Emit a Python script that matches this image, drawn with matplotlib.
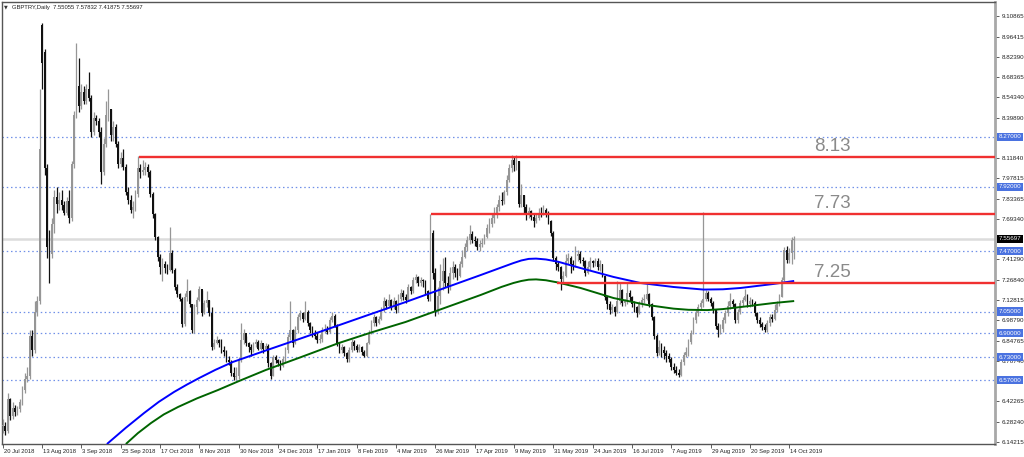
import matplotlib
matplotlib.use("Agg")
import matplotlib.pyplot as plt
import numpy as np

# ---------------- data ----------------
date_labels = ["20 Jul 2018", "13 Aug 2018", "3 Sep 2018", "25 Sep 2018", "17 Oct 2018",
               "8 Nov 2018", "30 Nov 2018", "24 Dec 2018", "17 Jan 2019", "8 Feb 2019",
               "4 Mar 2019", "26 Mar 2019", "17 Apr 2019", "9 May 2019", "31 May 2019",
               "24 Jun 2019", "16 Jul 2019", "7 Aug 2019", "29 Aug 2019", "20 Sep 2019",
               "14 Oct 2019"]
label_step = 16  # bars between date labels

closes = [
    6.25, 6.22, 6.44, 6.32, 6.38, 6.35, 6.37, 6.42, 6.50, 6.58,
    6.60, 6.88, 6.78, 7.05, 7.12, 8.18, 8.78, 8.05, 7.50, 7.45,
    7.66, 7.85, 7.80, 7.83, 7.79, 7.74, 7.82, 7.70, 8.08, 8.42,
    8.62, 8.48, 8.58, 8.52, 8.60, 8.54, 8.30, 8.40, 8.38, 8.30,
    8.02, 8.22, 8.42, 8.46, 8.28, 8.34, 8.22, 8.08, 8.12, 8.06,
    7.88, 7.83, 7.76, 7.78, 7.87, 8.05, 8.02, 8.04, 8.06, 8.02,
    7.87, 7.73, 7.57, 7.43, 7.36, 7.38, 7.35, 7.34, 7.46, 7.34,
    7.22, 7.17, 7.14, 6.96, 7.15, 7.19, 7.10, 6.92, 7.08, 7.13,
    7.21, 7.04, 7.11, 7.13, 7.04, 6.80, 6.83, 6.85, 6.83, 6.78,
    6.77, 6.71, 6.70, 6.62, 6.59, 6.60, 6.71, 6.85, 6.90, 6.83,
    6.80, 6.78, 6.82, 6.84, 6.79, 6.83, 6.79, 6.81, 6.69, 6.60,
    6.73, 6.71, 6.69, 6.67, 6.72, 6.78, 6.87, 6.92, 6.83, 6.92,
    7.01, 7.04, 7.00, 7.05, 6.97, 6.92, 6.90, 6.88, 6.85, 6.86,
    6.92, 6.93, 6.91, 6.99, 7.02, 6.95, 6.83, 6.78, 6.80, 6.76,
    6.72, 6.78, 6.84, 6.81, 6.78, 6.80, 6.77, 6.74, 6.83, 6.90,
    6.97, 7.01, 6.97, 7.00, 7.06, 7.12, 7.09, 7.13, 7.08, 7.12,
    7.06, 7.14, 7.18, 7.15, 7.13, 7.22, 7.19, 7.27, 7.29, 7.25,
    7.27, 7.26, 7.19, 7.14, 7.60, 7.32, 7.05, 7.16, 7.26, 7.33,
    7.25, 7.22, 7.32, 7.36, 7.32, 7.30, 7.38, 7.43, 7.50, 7.55,
    7.59, 7.55, 7.54, 7.50, 7.52, 7.53, 7.57, 7.63, 7.66, 7.70,
    7.72, 7.78, 7.83, 7.82, 7.88, 7.97, 8.05, 8.11, 8.07, 8.10,
    7.80, 7.86, 7.78, 7.72, 7.75, 7.71, 7.68, 7.70, 7.74, 7.73,
    7.76, 7.74, 7.68, 7.60, 7.42, 7.38, 7.36, 7.28, 7.30, 7.40,
    7.42, 7.38, 7.37, 7.44, 7.45, 7.41, 7.40, 7.32, 7.36, 7.40,
    7.39, 7.40, 7.36, 7.38, 7.30, 7.15, 7.10, 7.06, 7.08, 7.05,
    7.12, 7.20, 7.11, 7.12, 7.18, 7.15, 7.10, 7.08, 7.04, 7.10,
    7.13, 7.14, 7.17, 7.10, 7.01, 6.88, 6.76, 6.80, 6.78, 6.76,
    6.74, 6.72, 6.66, 6.64, 6.62, 6.61, 6.70, 6.75, 6.77, 6.84,
    6.90, 6.99, 7.04, 7.08, 7.11, 7.14, 7.18, 7.14, 7.11, 7.06,
    6.95, 6.92, 6.93, 6.99, 7.04, 7.09, 7.12, 7.10, 6.99, 7.05,
    7.11, 7.13, 7.16, 7.10, 7.12, 7.11, 7.04, 6.99, 6.96, 6.94,
    6.92, 6.97, 7.01, 7.00, 7.06, 7.10, 7.15, 7.27, 7.48, 7.41,
    7.46, 7.55, 7.55697,
]
highs = [
    6.30, 6.28, 6.48, 6.45, 6.42, 6.40, 6.39, 6.44, 6.53, 6.62,
    6.66, 6.92, 6.92, 7.12, 7.16, 8.60, 9.065, 8.88, 8.08, 7.62,
    7.70, 7.90, 7.92, 7.88, 7.90, 7.82, 7.85, 7.90, 8.10, 8.45,
    8.92, 8.82, 8.64, 8.62, 8.64, 8.72, 8.56, 8.44, 8.42, 8.40,
    8.34, 8.26, 8.52, 8.60, 8.46, 8.38, 8.36, 8.24, 8.16, 8.18,
    8.08, 7.92, 7.86, 7.82, 7.90, 8.134, 8.08, 8.11, 8.09, 8.08,
    8.04, 7.88, 7.74, 7.58, 7.45, 7.42, 7.40, 7.38, 7.64, 7.48,
    7.35, 7.24, 7.18, 7.15, 7.18, 7.28, 7.20, 7.10, 7.10, 7.15,
    7.23, 7.20, 7.13, 7.19, 7.13, 7.08, 6.86, 6.88, 6.86, 6.86,
    6.81, 6.78, 6.74, 6.71, 6.66, 6.66, 6.73, 6.97, 6.93, 6.88,
    6.84, 6.82, 6.84, 6.86, 6.85, 6.85, 6.82, 6.83, 6.82, 6.70,
    6.75, 6.75, 6.72, 6.71, 6.74, 6.80, 6.89, 7.12, 6.93, 6.95,
    7.03, 7.06, 7.05, 7.12, 7.06, 6.98, 6.95, 6.92, 6.91, 6.89,
    6.94, 6.96, 6.95, 7.01, 7.05, 7.03, 6.96, 6.84, 6.82, 6.81,
    6.77, 6.80, 6.86, 6.85, 6.82, 6.82, 6.81, 6.78, 6.84, 6.92,
    6.99, 7.03, 7.02, 7.02, 7.08, 7.15, 7.14, 7.17, 7.14, 7.15,
    7.13, 7.17, 7.21, 7.20, 7.17, 7.24, 7.23, 7.29, 7.31, 7.30,
    7.29, 7.28, 7.27, 7.20, 7.73, 7.62, 7.35, 7.22, 7.38, 7.42,
    7.43, 7.30, 7.36, 7.40, 7.38, 7.35, 7.40, 7.48, 7.53, 7.58,
    7.65, 7.61, 7.58, 7.56, 7.55, 7.56, 7.59, 7.66, 7.70, 7.74,
    7.78, 7.80, 7.86, 7.88, 7.90, 8.00, 8.08, 8.14, 8.135, 8.14,
    8.10, 7.94, 7.86, 7.80, 7.78, 7.76, 7.73, 7.73, 7.77, 7.78,
    7.79, 7.77, 7.75, 7.69, 7.61, 7.44, 7.40, 7.37, 7.33, 7.45,
    7.46, 7.44, 7.41, 7.51, 7.48, 7.47, 7.43, 7.41, 7.40, 7.43,
    7.41, 7.42, 7.42, 7.41, 7.38, 7.30, 7.16, 7.12, 7.10, 7.09,
    7.26, 7.25, 7.21, 7.14, 7.25, 7.20, 7.16, 7.12, 7.09, 7.12,
    7.15, 7.17, 7.24, 7.18, 7.11, 7.02, 6.89, 6.85, 6.83, 6.81,
    6.78, 6.76, 6.73, 6.69, 6.67, 6.65, 6.72, 6.77, 6.80, 6.86,
    6.92, 7.01, 7.06, 7.10, 7.13, 7.746, 7.20, 7.19, 7.15, 7.12,
    7.07, 6.97, 6.96, 7.01, 7.06, 7.12, 7.18, 7.14, 7.11, 7.07,
    7.13, 7.15, 7.21, 7.17, 7.15, 7.14, 7.12, 7.05, 7.01, 6.98,
    6.96, 6.99, 7.03, 7.03, 7.10, 7.12, 7.17, 7.29, 7.50, 7.51,
    7.49, 7.57, 7.57832,
]
lows = [
    6.20, 6.19, 6.20, 6.29, 6.30, 6.32, 6.33, 6.35, 6.40, 6.48,
    6.56, 6.58, 6.74, 6.76, 7.02, 7.10, 8.60, 8.00, 7.42, 7.25,
    7.42, 7.60, 7.74, 7.76, 7.76, 7.72, 7.72, 7.67, 7.68, 8.05,
    8.40, 8.44, 8.46, 8.50, 8.50, 8.52, 8.27, 8.28, 8.35, 8.27,
    7.94, 8.00, 8.20, 8.38, 8.24, 8.24, 8.20, 8.05, 8.06, 8.04,
    7.86, 7.80, 7.74, 7.70, 7.75, 7.85, 7.98, 8.00, 8.00, 7.99,
    7.85, 7.70, 7.55, 7.40, 7.31, 7.26, 7.32, 7.31, 7.33, 7.32,
    7.20, 7.15, 7.12, 6.94, 6.95, 7.12, 7.08, 6.90, 6.90, 7.03,
    7.12, 7.02, 7.03, 7.08, 7.02, 6.78, 6.79, 6.82, 6.80, 6.76,
    6.74, 6.70, 6.68, 6.60, 6.57, 6.57, 6.58, 6.70, 6.82, 6.81,
    6.77, 6.74, 6.77, 6.80, 6.78, 6.78, 6.76, 6.78, 6.66, 6.58,
    6.60, 6.69, 6.67, 6.64, 6.66, 6.70, 6.76, 6.85, 6.80, 6.82,
    6.90, 6.99, 6.98, 6.99, 6.95, 6.90, 6.87, 6.86, 6.83, 6.83,
    6.84, 6.90, 6.89, 6.90, 6.98, 6.94, 6.81, 6.76, 6.76, 6.74,
    6.70, 6.70, 6.77, 6.78, 6.77, 6.77, 6.75, 6.73, 6.73, 6.82,
    6.89, 6.95, 6.95, 6.96, 6.99, 7.05, 7.07, 7.08, 7.06, 7.07,
    7.04, 7.05, 7.12, 7.13, 7.11, 7.12, 7.17, 7.18, 7.25, 7.23,
    7.23, 7.22, 7.17, 7.12, 7.12, 7.28, 7.02, 7.03, 7.10, 7.20,
    7.22, 7.18, 7.20, 7.28, 7.29, 7.27, 7.29, 7.36, 7.42, 7.47,
    7.52, 7.53, 7.51, 7.48, 7.47, 7.50, 7.52, 7.56, 7.60, 7.64,
    7.67, 7.70, 7.75, 7.79, 7.80, 7.86, 7.95, 8.02, 8.03, 8.04,
    7.78, 7.78, 7.74, 7.69, 7.70, 7.69, 7.64, 7.67, 7.69, 7.71,
    7.72, 7.71, 7.66, 7.58, 7.40, 7.34, 7.33, 7.20, 7.24, 7.29,
    7.38, 7.32, 7.34, 7.36, 7.40, 7.39, 7.37, 7.30, 7.31, 7.34,
    7.36, 7.37, 7.34, 7.33, 7.29, 7.13, 7.07, 7.03, 7.04, 7.02,
    7.04, 7.10, 7.09, 7.09, 7.10, 7.12, 7.08, 7.05, 7.01, 7.03,
    7.08, 7.11, 7.13, 7.08, 6.99, 6.86, 6.74, 6.75, 6.73, 6.72,
    6.70, 6.70, 6.64, 6.62, 6.61, 6.596, 6.60, 6.68, 6.73, 6.74,
    6.82, 6.89, 6.97, 7.02, 7.06, 7.08, 7.12, 7.12, 7.09, 7.04,
    6.93, 6.87, 6.89, 6.91, 6.97, 7.02, 7.07, 7.08, 6.97, 6.97,
    7.03, 7.09, 7.12, 7.08, 7.08, 7.09, 7.02, 6.97, 6.94, 6.92,
    6.91, 6.91, 6.95, 6.98, 6.99, 7.05, 7.09, 7.15, 7.26, 7.39,
    7.39, 7.38, 7.41875,
]
gap_opens = {16: 9.05, 17: 8.86, 322: 7.55055}

# moving averages: (bar index, value)
ma_blue_bars = [42.4, 50.0, 57.5, 63.5, 69.7, 75.0, 79.8, 86.5, 93.6, 107.0, 120.4, 136.7,
                147.7, 163.9, 174.1, 194.4, 203.0, 207.8, 211.0, 214.0, 217.0, 221.0,
                226.0, 235.1, 248.5, 259.4, 272.9, 285.1, 293.0, 300.1, 313.5, 322.0]
ma_blue_vals = [6.126, 6.238, 6.342, 6.420, 6.489, 6.541, 6.585, 6.643, 6.698, 6.778, 6.857,
                6.954, 7.020, 7.116, 7.179, 7.304, 7.358, 7.388, 7.406, 7.417, 7.419, 7.413,
                7.397, 7.353, 7.291, 7.249, 7.221, 7.203, 7.205, 7.214, 7.242, 7.263]
ma_green_bars = [50.1, 55.0, 60.3, 65.5, 71.3, 79.0, 87.5, 96.1, 107.0, 120.4, 136.7, 150.5,
                 163.9, 174.1, 194.4, 203.0, 207.8, 211.0, 214.0, 217.0, 221.0, 226.0,
                 235.1, 248.5, 262.3, 272.9, 279.0, 286.7, 293.0, 300.1, 313.5, 322.0]
ma_green_vals = [6.126, 6.202, 6.272, 6.332, 6.384, 6.444, 6.502, 6.565, 6.642, 6.726, 6.830,
                 6.907, 6.977, 7.040, 7.165, 7.222, 7.249, 7.263, 7.272, 7.274, 7.268,
                 7.252, 7.214, 7.144, 7.095, 7.070, 7.062, 7.060, 7.067, 7.081, 7.109, 7.123]

level_lines = [8.27, 7.92, 7.47, 7.05, 6.90, 6.73, 6.57]
resistance_levels = [8.13, 7.73, 7.25]
resistance_start = [55.4, 174.1, 225.3]
resistance_text = ["8.13", "7.73", "7.25"]
bid_price = 7.55697
axis_ticks = [9.10865, 8.96415, 8.82390, 8.68365, 8.54340, 8.39890, 8.11840,
              7.97815, 7.83365, 7.69340, 7.41290, 7.26840, 7.12815, 6.98790, 6.84765,
              6.70740, 6.42265, 6.28240, 6.14215]
title = "GBPTRY,Daily  7.55055 7.57832 7.41875 7.55697"

# ---------------- figure ----------------
W, H = 1024, 457
fig = plt.figure(figsize=(W / 100, H / 100), dpi=100)
fig.patch.set_facecolor("white")
ax_l, ax_r, ax_t, ax_b = 1.5, 995, 2, 444
ax = fig.add_axes([ax_l / W, (H - ax_b) / H, (ax_r - ax_l) / W, (ax_b - ax_t) / H])
ax.set_facecolor("white")

n = len(closes)
x = np.arange(n)
c = np.array(closes)
o = np.concatenate([[closes[0]], c[:-1]])
for k, v in gap_opens.items():
    o[k] = v
hi = np.array(highs)
lo = np.array(lows)

ax.set_xlim(-0.5, 403.7)
ax.set_ylim(6.12609, 9.20837)

# horizontal dotted level lines
for lv in level_lines:
    ax.axhline(lv, color="#7090e8", lw=0.9, ls=(0, (1.2, 2.2)), zorder=1)
# bid line
ax.axhline(bid_price, color="#dcdcdc", lw=1.8, zorder=1)

# candles
bull = c >= o
bull_col = "#969696"
bear_col = "#111111"
cols = np.where(bull, bull_col, bear_col)
ax.vlines(x, lo, hi, colors=cols, lw=0.9, zorder=3)
body_lo = np.minimum(o, c)
body_h = np.maximum(np.abs(c - o), 0.006)
ax.bar(x, body_h, bottom=body_lo, width=0.72, color=cols, linewidth=0, zorder=4)

# moving averages
ax.plot(ma_blue_bars, ma_blue_vals, color="#0000ff", lw=1.4, zorder=5, solid_capstyle="butt")
ax.plot(ma_green_bars, ma_green_vals, color="#006400", lw=1.4, zorder=5, solid_capstyle="butt")

# resistance lines and their labels
for lv, st, txt in zip(resistance_levels, resistance_start, resistance_text):
    ax.hlines(lv, st, 403.7, color="#f03030", lw=1.7, zorder=6)
    ax.text(337.5, lv + 0.07, txt, color="#8a8a8a", fontsize=13.5,
            family=["Liberation Sans", "DejaVu Sans"], ha="center", va="center", zorder=7)

# spines
for s in ["left", "top", "bottom"]:
    ax.spines[s].set_color("#555555")
    ax.spines[s].set_linewidth(1.0)
ax.spines["right"].set_color("#a8a8a8")
ax.spines["right"].set_linewidth(2.0)

# y axis on right
ax.yaxis.tick_right()
ax.set_yticks(axis_ticks)
ax.set_yticklabels([f"{t:.5f}" for t in axis_ticks])
ax.tick_params(axis="y", direction="out", length=3, width=0.6, color="#444444",
               labelsize=4.5, pad=1.5, labelcolor="#222222")
for lab in ax.get_yticklabels():
    lab.set_family(["Liberation Sans", "DejaVu Sans"])

# x axis labels
xt = [i * label_step for i in range(len(date_labels))]
ax.set_xticks(xt)
ax.set_xticklabels([])
ax.tick_params(axis="x", direction="out", length=3, width=0.6, color="#444444")
for pos, lab in zip(xt, date_labels):
    ax.text(pos + 0.4, -0.012, lab, transform=ax.get_xaxis_transform(), fontsize=4.2,
            family=["Liberation Sans", "DejaVu Sans"], color="#222222",
            ha="left", va="top", clip_on=False)

# price boxes on right axis
ytr = ax.get_yaxis_transform()
for lv in level_lines:
    ax.text(1.0035, lv, f"{lv:.5f}", transform=ytr, fontsize=4.5, color="white",
            family=["Liberation Sans", "DejaVu Sans"], ha="left", va="center", clip_on=False,
            zorder=10,
            bbox=dict(boxstyle="square,pad=0.25", fc="#4a72e0", ec="#4a72e0", lw=0))
ax.text(1.0035, bid_price, f"{bid_price:.5f}", transform=ytr, fontsize=4.5, color="white",
        family=["Liberation Sans", "DejaVu Sans"], ha="left", va="center", clip_on=False,
        zorder=10, bbox=dict(boxstyle="square,pad=0.25", fc="#000000", ec="#000000", lw=0))

# title
fig.text(4 / W, 1 - 7 / H, "\u25bc", fontsize=3.5, family=["DejaVu Sans"], color="#333333",
         ha="left", va="center")
fig.text(11.5 / W, 1 - 7 / H, title, fontsize=4.2, family=["Liberation Sans", "DejaVu Sans"],
         color="#222222", ha="left", va="center")

fig.savefig("out.png", dpi=100, facecolor="white")
